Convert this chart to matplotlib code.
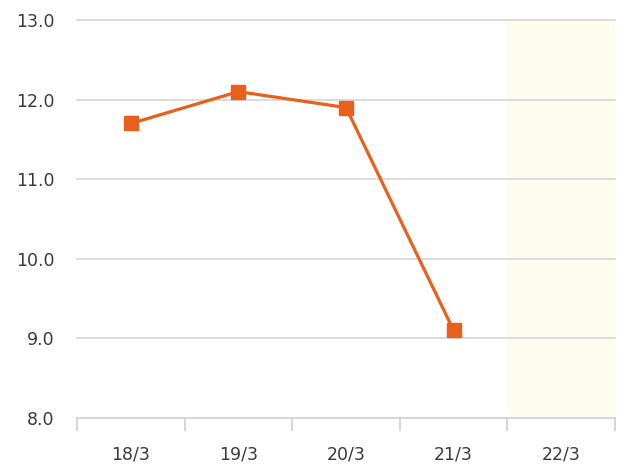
import numpy as np
import matplotlib.pyplot as plt

dates = ["18/3", "19/3", "20/3", "21/3", "22/3"]
values = [11.7, 12.1, 11.9, 9.1]
highlight = "22/3"
y_ticks = [8.0, 9.0, 10.0, 11.0, 12.0, 13.0]

fig = plt.figure(figsize=(6.35, 4.75), dpi=100)
ax = fig.add_axes([0.1213, 0.12, 0.8472, 0.8379])

x = np.arange(len(dates))

# sfondo evidenziato per l'ultimo giorno
hi = dates.index(highlight)
ax.axvspan(hi - 0.5, hi + 0.5, ymin=0.01, color="#fdfdee", zorder=0)

for yv in y_ticks[1:]:
    ax.axhline(yv, color="#d5d5d5", lw=1.2, zorder=1, clip_on=False)

ax.plot(x[:len(values)], values, color="#e8601c", lw=2.3, marker="s",
        markersize=9.5, zorder=3)

ax.set_xlim(-0.5, len(dates) - 0.5)
ax.set_ylim(8.0, 13.0)
ax.set_yticks(y_ticks)
ax.set_yticklabels([f"{v:.1f}" for v in y_ticks])
ax.set_xticks(x)
ax.set_xticklabels(dates)
ax.set_xticks(np.arange(len(dates) + 1) - 0.5, minor=True)

ax.tick_params(axis="x", which="major", length=0, pad=20, labelsize=12.5, labelcolor="#3a3a3a")
ax.tick_params(axis="x", which="minor", length=9, width=1.2, color="#d0d0d0", direction="out")
ax.tick_params(axis="y", length=0, pad=16, labelsize=12.5, labelcolor="#3a3a3a")

for s in ["top", "right", "left"]:
    ax.spines[s].set_visible(False)
ax.spines["bottom"].set_color("#d0d0d0")
ax.spines["bottom"].set_linewidth(1.2)

fig.savefig("out.png", dpi=100)
